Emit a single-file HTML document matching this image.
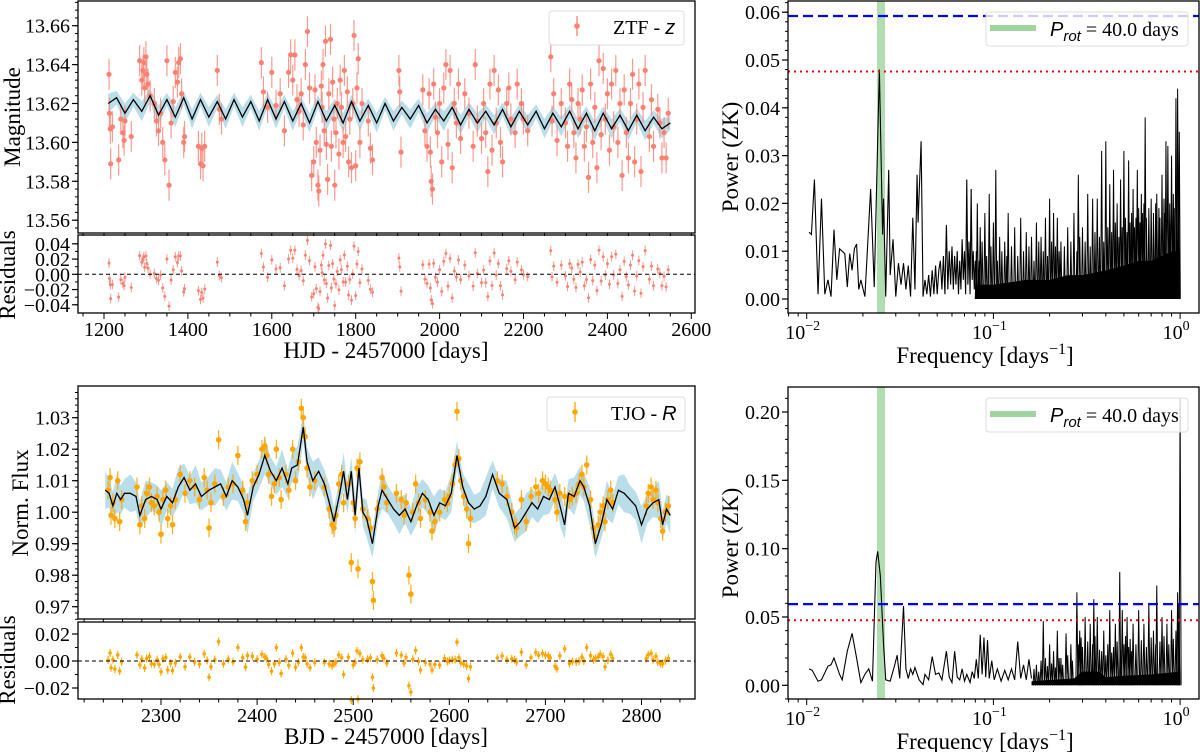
<!DOCTYPE html>
<html><head><meta charset="utf-8">
<style>
html,body{margin:0;padding:0;background:#fff;}
svg{display:block;font-family:"Liberation Serif",serif;}
</style></head>
<body>
<svg id="fig" width="1200" height="752" viewBox="0 0 1200 752" xmlns="http://www.w3.org/2000/svg"></svg>
<script>
// ---------- DATA: ZTF top-left ----------
const ztfModelStart = 1210, ztfModelStep = 20;
const ztfModel = [13.620,13.623,13.615,13.622,13.616,13.624,13.614,13.622,13.613,13.623,13.612,13.622,13.613,13.621,13.612,13.622,13.613,13.621,13.611,13.622,13.612,13.621,13.611,13.620,13.610,13.621,13.611,13.619,13.610,13.621,13.611,13.619,13.610,13.620,13.611,13.618,13.612,13.619,13.610,13.617,13.611,13.618,13.609,13.617,13.610,13.616,13.609,13.617,13.608,13.616,13.609,13.616,13.607,13.615,13.608,13.616,13.607,13.615,13.606,13.615,13.607,13.614,13.606,13.614,13.606,13.613,13.607,13.610];
const ztfT = [1212,1213,1215,1216,1220,1235,1240,1245,1248,1250,1265,1285,1290,1293,1295,1297,1300,1302,1305,1310,1320,1325,1330,1335,1340,1345,1350,1355,1360,1365,1370,1375,1378,1382,1385,1390,1392,1425,1430,1433,1436,1440,1470,1475,1480,1575,1580,1590,1600,1610,1620,1630,1640,1645,1650,1655,1660,1665,1670,1675,1680,1685,1690,1695,1700,1703,1706,1710,1712,1715,1718,1720,1722,1725,1728,1730,1733,1736,1740,1742,1745,1748,1750,1753,1756,1760,1763,1766,1770,1773,1776,1780,1783,1786,1790,1793,1796,1800,1803,1806,1810,1815,1830,1835,1840,1903,1905,1908,1960,1965,1970,1975,1978,1980,1983,1986,1990,1995,2000,2005,2010,2015,2020,2025,2030,2035,2040,2045,2050,2060,2070,2080,2085,2090,2100,2105,2110,2115,2120,2125,2130,2135,2140,2145,2150,2160,2165,2170,2180,2185,2195,2200,2210,2265,2268,2272,2280,2290,2300,2305,2310,2315,2320,2325,2330,2335,2340,2345,2350,2355,2360,2365,2370,2375,2380,2385,2390,2395,2400,2405,2410,2415,2420,2425,2430,2435,2440,2445,2450,2455,2460,2465,2470,2475,2480,2485,2490,2500,2505,2510,2520,2525,2530,2535,2540,2545];
const ztfMag = [13.635,13.615,13.607,13.589,13.608,13.591,13.612,13.605,13.601,13.611,13.603,13.642,13.632,13.637,13.641,13.628,13.644,13.635,13.630,13.624,13.620,13.611,13.606,13.615,13.600,13.591,13.642,13.578,13.610,13.621,13.636,13.631,13.641,13.643,13.625,13.600,13.603,13.598,13.589,13.597,13.588,13.598,13.637,13.617,13.612,13.641,13.626,13.618,13.636,13.619,13.625,13.606,13.636,13.645,13.632,13.645,13.622,13.616,13.625,13.609,13.640,13.657,13.628,13.583,13.590,13.627,13.600,13.578,13.575,13.596,13.629,13.618,13.640,13.606,13.652,13.599,13.581,13.625,13.653,13.598,13.631,13.612,13.578,13.605,13.620,13.594,13.632,13.618,13.600,13.637,13.603,13.626,13.590,13.612,13.587,13.620,13.655,13.588,13.628,13.643,13.600,13.620,13.611,13.597,13.591,13.637,13.626,13.595,13.627,13.606,13.598,13.625,13.595,13.580,13.576,13.630,13.613,13.605,13.620,13.590,13.628,13.640,13.599,13.637,13.587,13.620,13.610,13.630,13.602,13.625,13.615,13.598,13.640,13.611,13.602,13.620,13.605,13.585,13.630,13.596,13.637,13.610,13.627,13.600,13.590,13.620,13.628,13.612,13.605,13.630,13.620,13.612,13.606,13.644,13.611,13.625,13.601,13.620,13.610,13.598,13.630,13.622,13.605,13.592,13.620,13.612,13.627,13.598,13.608,13.582,13.630,13.600,13.618,13.587,13.642,13.604,13.638,13.612,13.625,13.596,13.630,13.608,13.637,13.600,13.620,13.583,13.627,13.605,13.592,13.620,13.635,13.590,13.612,13.630,13.585,13.618,13.637,13.603,13.622,13.598,13.617,13.610,13.592,13.605,13.592,13.615];
const ztfErr = 0.008;
const ztfYTicks = ["13.56","13.58","13.60","13.62","13.64","13.66"];
const ztfRTicks = ["0.04","0.02","0.00","−0.02","−0.04"];
const ztfXTicks = [1200,1400,1600,1800,2000,2200,2400,2600];

// ---------- DATA: TJO bottom-left ----------
const tjoModelT = [2242,2246,2250,2254,2258,2262,2268,2274,2278,2284,2290,2296,2300,2306,2312,2318,2324,2330,2336,2342,2350,2356,2362,2368,2374,2380,2386,2390,2396,2402,2408,2414,2420,2426,2432,2436,2442,2448,2452,2458,2464,2470,2476,2480,2486,2490,2494,2498,2502,2506,2510,2514,2520,2526,2530,2536,2542,2548,2554,2560,2566,2572,2578,2584,2590,2596,2602,2608,2614,2620,2626,2632,2638,2645,2652,2660,2668,2674,2680,2686,2692,2698,2704,2710,2716,2720,2724,2730,2736,2740,2746,2752,2758,2764,2770,2776,2782,2788,2794,2800,2806,2812,2818,2822,2826,2830];
const tjoModel = [1.007,1.006,1.002,1.006,1.004,1.006,1.006,1.005,0.999,1.004,1.005,1.004,1.001,1.005,1.003,1.008,1.011,1.007,1.009,1.005,1.007,1.008,1.009,1.005,1.010,1.008,1.004,0.999,1.008,1.012,1.018,1.013,1.010,1.014,1.009,1.014,1.015,1.027,1.016,1.010,1.013,1.009,1.002,0.997,1.006,1.013,1.004,1.013,0.999,1.014,1.000,0.998,0.990,1.002,1.007,1.004,1.001,0.999,1.001,0.997,1.002,1.006,1.004,0.999,1.003,1.002,1.006,1.018,1.008,1.003,1.001,1.002,1.005,1.012,1.006,1.004,0.995,0.997,1.000,1.003,1.001,1.005,1.004,1.008,1.001,0.996,1.006,1.005,1.010,1.008,1.002,0.990,0.996,1.004,1.001,1.007,1.006,1.004,1.002,0.996,1.001,1.003,1.004,0.996,1.001,0.999];
const tjoT = [2245,2247,2248,2250,2252,2255,2257,2259,2275,2278,2280,2283,2285,2288,2290,2293,2296,2298,2300,2302,2305,2307,2310,2312,2315,2320,2325,2330,2335,2340,2345,2348,2350,2352,2356,2360,2365,2370,2375,2380,2385,2388,2390,2395,2400,2405,2408,2410,2412,2415,2418,2420,2423,2425,2430,2433,2437,2440,2443,2446,2448,2450,2452,2455,2460,2470,2475,2478,2480,2482,2485,2488,2490,2495,2498,2500,2502,2504,2505,2507,2510,2515,2518,2520,2521,2525,2530,2532,2535,2545,2550,2553,2555,2558,2560,2562,2565,2568,2570,2575,2580,2582,2585,2590,2595,2598,2600,2603,2606,2608,2610,2612,2615,2618,2620,2622,2650,2655,2660,2665,2668,2670,2675,2680,2685,2690,2693,2697,2700,2703,2705,2710,2712,2715,2720,2725,2728,2732,2735,2738,2740,2743,2747,2750,2752,2755,2757,2760,2762,2765,2768,2770,2805,2807,2810,2812,2815,2817,2820,2822,2825,2828];
const tjoFlux = [1.007,1.011,0.999,1.003,0.998,1.010,0.997,1.004,1.008,0.996,1.002,0.998,1.006,1.008,1.003,1.002,1.005,1.000,0.993,1.004,1.007,0.998,1.002,0.996,1.004,1.012,1.006,1.010,1.008,1.004,1.011,1.007,0.995,1.003,1.009,1.023,1.005,1.008,1.009,1.018,1.007,0.997,1.003,1.010,1.012,1.020,1.021,1.018,1.012,1.005,1.009,1.020,1.011,1.004,1.012,1.007,1.020,1.010,1.016,1.033,1.030,1.024,1.014,1.008,1.010,1.008,1.001,0.996,0.995,0.999,1.009,1.012,1.003,1.009,0.984,1.003,0.998,1.014,0.982,1.016,1.001,0.998,0.995,0.978,0.972,1.001,1.011,1.008,1.003,1.006,1.004,0.999,1.003,0.980,0.974,1.000,1.009,1.003,0.998,1.004,1.000,0.994,0.997,1.000,1.004,1.003,1.005,1.009,1.015,1.032,1.017,1.010,1.005,1.001,0.990,0.998,1.010,1.009,1.005,1.000,0.996,0.995,1.004,0.997,1.005,1.008,1.006,1.010,1.009,1.008,1.007,1.004,1.000,1.006,1.005,1.004,1.005,1.006,1.009,1.012,1.008,1.015,1.004,0.995,0.992,0.996,1.000,1.002,0.997,1.004,1.007,1.003,1.002,1.006,1.008,1.004,1.007,1.003,0.998,0.994,1.000,1.002];
const tjoErr = 0.003;
const tjoYTicks = ["0.97","0.98","0.99","1.00","1.01","1.02","1.03"];
const tjoRTicks = ["0.02","0.00","−0.02"];
const tjoXTicks = [2300,2400,2500,2600,2700,2800];

// ---------- DATA: periodogram top-right ----------
const pg1LineF = [0.0103,0.0106,0.011,0.0115,0.012,0.0125,0.013,0.0135,0.014,0.0145,0.015,0.016,0.0165,0.017,0.0175,0.018,0.0185,0.019,0.0195,0.0205,0.022,0.023,0.0245,0.0255,0.0258,0.0265,0.0275,0.028,0.029,0.030,0.031,0.032,0.033,0.034,0.035,0.036,0.037,0.038,0.039,0.0395,0.041,0.042,0.043,0.044,0.045,0.046,0.047,0.048,0.049,0.05,0.051,0.052,0.053,0.054,0.055,0.056,0.057,0.058,0.059,0.06,0.061,0.062,0.063,0.064,0.065,0.066,0.067,0.068,0.069,0.07,0.071,0.072,0.073,0.074,0.075,0.076,0.077,0.078,0.079,0.08];
const pg1LineP = [0.0140,0.0135,0.025,0.001,0.021,0.001,0.004,0.0005,0.0145,0.004,0.0105,0.0095,0.0025,0.0095,0.006,0.0105,0.0115,0.002,0.004,0.0005,0.023,0.0025,0.048,0.0135,0.021,0.0005,0.027,0.005,0.0125,0.0005,0.0075,0.003,0.0075,0.002,0.007,0.0005,0.017,0.002,0.026,0.016,0.033,0.0005,0.004,0.001,0.005,0.0005,0.006,0.001,0.007,0.001,0.006,0.008,0.002,0.009,0.001,0.0155,0.002,0.010,0.003,0.011,0.002,0.009,0.003,0.010,0.001,0.008,0.002,0.0125,0.004,0.010,0.001,0.025,0.003,0.012,0.001,0.023,0.004,0.010,0.002,0.008];
const pg1EnvF = [0.08,0.1,0.15,0.2,0.25,0.3,0.4,0.5,0.6,0.7,0.8,0.9,1.0];
const pg1EnvP = [0.003,0.003,0.004,0.004,0.005,0.005,0.006,0.007,0.008,0.008,0.009,0.010,0.010];
const pg1SpikeF = [0.082,0.085,0.09,0.095,0.1,0.103,0.108,0.115,0.12,0.13,0.14,0.15,0.16,0.17,0.18,0.19,0.2,0.21,0.22,0.23,0.25,0.27,0.285,0.3,0.32,0.34,0.36,0.38,0.4,0.42,0.44,0.46,0.48,0.5,0.53,0.56,0.59,0.62,0.65,0.7,0.75,0.8,0.84,0.86,0.9,0.95,0.97,0.99];
const pg1SpikeP = [0.020,0.015,0.018,0.022,0.016,0.027,0.013,0.012,0.018,0.015,0.017,0.014,0.013,0.016,0.013,0.017,0.021,0.018,0.017,0.012,0.015,0.018,0.026,0.015,0.022,0.021,0.021,0.031,0.033,0.024,0.027,0.020,0.025,0.031,0.029,0.023,0.027,0.022,0.038,0.021,0.022,0.026,0.033,0.032,0.030,0.042,0.044,0.035];
const pg1Spike2F = [0.081,0.084,0.087,0.092,0.097,0.105,0.111,0.118,0.125,0.135,0.145,0.155,0.165,0.175,0.185,0.195,0.205,0.215,0.225,0.24,0.26,0.28,0.29,0.31,0.33,0.35,0.37,0.39,0.41,0.43,0.45,0.47,0.49,0.51,0.52,0.54,0.55,0.57,0.58,0.60,0.61,0.63,0.64,0.66,0.68,0.72,0.74,0.77,0.78,0.82,0.83,0.88,0.92,0.93,0.96,0.98];
const pg1Spike2P = [0.010,0.008,0.012,0.009,0.011,0.008,0.010,0.009,0.011,0.009,0.010,0.011,0.008,0.012,0.010,0.009,0.012,0.011,0.010,0.011,0.012,0.010,0.013,0.012,0.011,0.014,0.013,0.012,0.015,0.014,0.016,0.013,0.015,0.017,0.014,0.016,0.018,0.015,0.017,0.019,0.016,0.018,0.020,0.017,0.019,0.018,0.020,0.019,0.017,0.021,0.018,0.020,0.022,0.019,0.021,0.020];
const pg1YTicks = ["0.00","0.01","0.02","0.03","0.04","0.05","0.06"];
const pg1FAP10 = 0.0592, pg1FAP1 = 0.0476;

// ---------- DATA: periodogram bottom-right ----------
const pg2LineF = [0.0103,0.0107,0.0115,0.012,0.013,0.0135,0.014,0.015,0.0155,0.0165,0.0175,0.0185,0.0195,0.0205,0.0215,0.0225,0.0235,0.024,0.0248,0.0258,0.0265,0.028,0.0295,0.0305,0.0315,0.033,0.034,0.035,0.036,0.037,0.038,0.04,0.042,0.043,0.045,0.047,0.049,0.051,0.053,0.056,0.058,0.06,0.062,0.064,0.066,0.068,0.07,0.072,0.075,0.077,0.079,0.081,0.083,0.085,0.087,0.089,0.091,0.093,0.095,0.098,0.101,0.105,0.11,0.115,0.12,0.125,0.13,0.135,0.14,0.145,0.15,0.155,0.16];
const pg2LineP = [0.012,0.011,0.003,0.004,0.014,0.015,0.020,0.008,0.004,0.025,0.038,0.020,0.002,0.008,0.012,0.003,0.090,0.098,0.080,0.030,0.004,0.003,0.014,0.022,0.005,0.058,0.012,0.005,0.012,0.008,0.013,0.004,0.0005,0.008,0.004,0.021,0.008,0.009,0.004,0.025,0.006,0.002,0.025,0.006,0.004,0.012,0.003,0.008,0.002,0.010,0.005,0.019,0.005,0.037,0.008,0.035,0.006,0.033,0.005,0.018,0.004,0.012,0.003,0.011,0.004,0.012,0.004,0.032,0.005,0.015,0.004,0.019,0.005];
const pg2EnvF = [0.16,0.2,0.27,0.3,0.37,0.4,0.5,0.7,1.0];
const pg2EnvP = [0.003,0.004,0.005,0.010,0.010,0.006,0.007,0.008,0.010];
const pg2SpikeF = [0.185,0.19,0.2,0.21,0.22,0.23,0.245,0.26,0.28,0.29,0.31,0.33,0.345,0.36,0.39,0.42,0.45,0.475,0.49,0.52,0.56,0.6,0.64,0.68,0.72,0.75,0.8,0.85,0.9,0.97,0.985,1.0];
const pg2SpikeP = [0.047,0.020,0.030,0.025,0.040,0.020,0.038,0.030,0.068,0.040,0.050,0.045,0.063,0.050,0.040,0.055,0.045,0.083,0.055,0.050,0.045,0.055,0.045,0.060,0.040,0.073,0.050,0.045,0.055,0.068,0.060,0.210];
const pg2Spike2F = [0.165,0.17,0.175,0.18,0.195,0.205,0.215,0.225,0.235,0.25,0.265,0.285,0.295,0.30,0.32,0.34,0.35,0.37,0.38,0.40,0.41,0.43,0.44,0.46,0.48,0.50,0.51,0.53,0.54,0.55,0.58,0.62,0.66,0.70,0.74,0.78,0.82,0.87,0.92,0.95];
const pg2Spike2P = [0.012,0.015,0.010,0.018,0.014,0.016,0.013,0.020,0.015,0.022,0.018,0.030,0.035,0.028,0.032,0.030,0.036,0.026,0.025,0.022,0.030,0.024,0.028,0.032,0.026,0.030,0.036,0.028,0.034,0.025,0.030,0.033,0.028,0.035,0.030,0.032,0.036,0.030,0.034,0.040];
const pg2YTicks = ["0.00","0.05","0.10","0.15","0.20"];
const pg2FAP10 = 0.0594, pg2FAP1 = 0.0476;
const protFreq = 1/40.0;

// ---------- DRAW ----------
const NS = "http://www.w3.org/2000/svg";
const svg = document.getElementById('fig');
function mk(tag, attrs, parent){ const e=document.createElementNS(NS,tag); for(const k in attrs) e.setAttribute(k,attrs[k]); (parent||svg).appendChild(e); return e; }
function txt(s, x, y, size, anchor, parent, rot){ const t=mk('text',{x:x,y:y,'font-size':size,'text-anchor':anchor||'middle',fill:'#000'},parent); if(rot) t.setAttribute('transform','rotate(-90 '+x+' '+y+')'); t.textContent=s; return t; }
function interp(T, V, t){ if(t<=T[0]) return V[0]; for(let i=1;i<T.length;i++){ if(t<=T[i]){ const f=(t-T[i-1])/(T[i]-T[i-1]); return V[i-1]+f*(V[i]-V[i-1]); } } return V[V.length-1]; }
function frame(x0,y0,x1,y1,name){ const r=mk('rect',{x:x0,y:y0,width:x1-x0,height:y1-y0,fill:'none',stroke:'#000','stroke-width':1.3});   }
function yTicks(x0, vals, ymap, minorStep, lo, hi, g){ for(let v=lo; v<=hi+1e-9; v+=minorStep){ const y=ymap(v); mk('line',{x1:x0-3,x2:x0,y1:y,y2:y,stroke:'#000','stroke-width':1},g); } vals.forEach(s=>{ const v=parseFloat(s.replace('−','-')); const y=ymap(v); mk('line',{x1:x0-6,x2:x0,y1:y,y2:y,stroke:'#000','stroke-width':1.2},g); txt(s,x0-8,y+7,20,'end',g); }); }

// --- ZTF panel
const zx = t => 104 + (t-1200)*0.4195;
const zy = m => 103.5 - (m-13.62)*1945;
const zry = r => 274.3 - r*762;
const gZ = mk('g',{});  
const ztfMT = ztfModel.map((_,i)=>ztfModelStart+i*ztfModelStep);
let bandUp=[], bandDn=[];
ztfMT.forEach((t,i)=>{ const wob = (i%2?0.0035:0.005); bandUp.push(zx(t)+','+zy(ztfModel[i]+wob)); bandDn.unshift(zx(t)+','+zy(ztfModel[i]-wob)); });
const zb=mk('polygon',{points:bandUp.concat(bandDn).join(' '),fill:'#add8e6',opacity:0.85},gZ);  
const gZP = mk('g',{},gZ);  
const gZR = mk('g',{},gZ);  
ztfT.forEach((t,i)=>{ const x=zx(t), y=zy(ztfMag[i]);
  mk('line',{x1:x,x2:x,y1:zy(ztfMag[i]+ztfErr),y2:zy(ztfMag[i]-ztfErr),stroke:'#fa8072','stroke-width':1.2,opacity:0.8},gZP);
  mk('circle',{cx:x,cy:y,r:2.6,fill:'#fa8072'},gZP);
  const r=ztfMag[i]-interp(ztfMT,ztfModel,t);
  mk('line',{x1:x,x2:x,y1:zry(r+ztfErr*0.8),y2:zry(r-ztfErr*0.8),stroke:'#fa8072','stroke-width':1,opacity:0.8},gZR);
  mk('circle',{cx:x,cy:zry(r),r:1.5,fill:'#fa8072'},gZR);
});
const zl=mk('polyline',{points:ztfMT.map((t,i)=>zx(t)+','+zy(ztfModel[i])).join(' '),fill:'none',stroke:'#000','stroke-width':1.3},gZ);  
const zd=mk('line',{x1:78,x2:695,y1:zry(0),y2:zry(0),stroke:'#000','stroke-width':1,'stroke-dasharray':'4,3'},gZ);  
frame(78,1,695,233,'ztf-main-axes'); frame(78,235,695,313,'ztf-residual-axes');
const gZA=mk('g',{});  
yTicks(78, ztfYTicks, zy, 0.004, 13.556, 13.672, gZA);
const gZRA=mk('g',{});  
yTicks(78, ztfRTicks, zry, 0.01, -0.04, 0.04, gZRA);
const gZX=mk('g',{});  
for(let t=1150;t<=2600;t+=50){ const x=zx(t); if(x<78||x>695) continue; const maj=ztfXTicks.includes(t); mk('line',{x1:x,x2:x,y1:313,y2:313+(maj?6:3.5),stroke:'#000','stroke-width':1},gZX); mk('line',{x1:x,x2:x,y1:233,y2:236,stroke:'#000','stroke-width':1},gZX); }
ztfXTicks.forEach(t=>txt(String(t),zx(t),336,20,'middle',gZX));
let e;
e=txt('HJD - 2457000 [days]',386,358,23,'middle');  
e=txt('Magnitude',20,117,23,'middle',null,true);  
e=txt('Residuals',15,275,23,'middle',null,true);  
const gZL=mk('g',{});  
mk('rect',{x:549,y:11,width:135,height:34,rx:3,fill:'#fff','fill-opacity':0.8,stroke:'#ddd'},gZL);
mk('line',{x1:577,x2:577,y1:16,y2:36,stroke:'#fa8072','stroke-width':1.3},gZL);
mk('circle',{cx:577,cy:26,r:2.8,fill:'#fa8072'},gZL);
const zlt=txt('ZTF - ',613,34,20,'start',gZL); const zi=mk('tspan',{'font-style':'italic','font-family':'Liberation Sans, sans-serif'},zlt); zi.textContent='z';

// --- TJO panel
const bx = t => 161 + (t-2300)*0.961;
const by = f => 417.7 - (f-1.03)*3150;
const bry = r => 661 - r*1350;
const gB = mk('g',{});  
let bu=[], bd=[];
tjoModelT.forEach((t,i)=>{ const w=(i%3===0?0.006:0.0045); bu.push(bx(t)+','+by(tjoModel[i]+w)); bd.unshift(bx(t)+','+by(tjoModel[i]-w)); });
const bb=mk('polygon',{points:bu.concat(bd).join(' '),fill:'#add8e6',opacity:0.85},gB);  
const gBP=mk('g',{},gB);  
const gBR=mk('g',{},gB);  
tjoT.forEach((t,i)=>{ const x=bx(t), y=by(tjoFlux[i]);
  mk('line',{x1:x,x2:x,y1:by(tjoFlux[i]+tjoErr),y2:by(tjoFlux[i]-tjoErr),stroke:'#ffa500','stroke-width':1.3,opacity:0.85},gBP);
  mk('circle',{cx:x,cy:y,r:2.8,fill:'#ffa500'},gBP);
  const r=tjoFlux[i]-interp(tjoModelT,tjoModel,t);
  mk('line',{x1:x,x2:x,y1:bry(r+tjoErr),y2:bry(r-tjoErr),stroke:'#ffa500','stroke-width':1.1},gBR);
  mk('circle',{cx:x,cy:bry(r),r:1.8,fill:'#ffa500'},gBR);
});
const bl=mk('polyline',{points:tjoModelT.map((t,i)=>bx(t)+','+by(tjoModel[i])).join(' '),fill:'none',stroke:'#000','stroke-width':1.3},gB);  
const bz=mk('line',{x1:78,x2:695,y1:bry(0),y2:bry(0),stroke:'#000','stroke-width':1,'stroke-dasharray':'4,3'},gB);  
frame(78,386,695,619,'tjo-main-axes'); frame(78,622,695,699,'tjo-residual-axes');
const gBA=mk('g',{});  
yTicks(78, tjoYTicks, by, 0.002, 0.966, 1.038, gBA);
const gBRA=mk('g',{});  
yTicks(78, tjoRTicks, bry, 0.01, -0.02, 0.02, gBRA);
const gBX=mk('g',{});  
for(let t=2220;t<=2860;t+=20){ const x=bx(t); if(x<78||x>695) continue; const maj=tjoXTicks.includes(t); mk('line',{x1:x,x2:x,y1:699,y2:699+(maj?6:3.5),stroke:'#000','stroke-width':1},gBX); mk('line',{x1:x,x2:x,y1:619,y2:622,stroke:'#000','stroke-width':1},gBX); }
tjoXTicks.forEach(t=>txt(String(t),bx(t),722,20,'middle',gBX));
e=txt('BJD - 2457000 [days]',386,744,23,'middle');  
e=txt('Norm. Flux',28,503,23,'middle',null,true);  
e=txt('Residuals',15,660,23,'middle',null,true);  
const gBL=mk('g',{});  
mk('rect',{x:547,y:397,width:138,height:34,rx:3,fill:'#fff','fill-opacity':0.8,stroke:'#ddd'},gBL);
mk('line',{x1:575,x2:575,y1:402,y2:422,stroke:'#ffa500','stroke-width':1.3},gBL);
mk('circle',{cx:575,cy:412,r:2.8,fill:'#ffa500'},gBL);
const blt=txt('TJO - ',611,420,20,'start',gBL); const bi=mk('tspan',{'font-style':'italic','font-family':'Liberation Sans, sans-serif'},blt); bi.textContent='R';

// --- periodograms
const lx = f => 806.7 + (Math.log10(f)+2)*186.7;
function spikes(F, P, py, g){ F.forEach((f,i)=>{ const x=lx(f); mk('polyline',{points:(x-1)+','+py(0)+' '+x+','+py(P[i])+' '+(x+1)+','+py(0),fill:'none',stroke:'#000','stroke-width':1},g); }); }
function periodogram(o){
  const g=mk('g',{});  
  const py=o.ymap;
  const gb=mk('rect',{x:lx(o.prot)-4,y:o.top,width:8,height:o.bot-o.top,fill:'#9fd39f',opacity:0.8},g);  
  const env=[lx(o.envF[0])+','+py(0)]; o.envF.forEach((f,i)=>env.push(lx(f)+','+py(o.envP[i]))); env.push(lx(o.envF[o.envF.length-1])+','+py(0));
  const ev=mk('polygon',{points:env.join(' '),fill:'#000'},g);  
  const pl=mk('polyline',{points:o.lineF.map((f,i)=>lx(f)+','+py(o.lineP[i])).join(' '),fill:'none',stroke:'#000','stroke-width':1.1},g);  
  const gs=mk('g',{},g);  
  spikes(o.spF,o.spP,py,gs); spikes(o.sp2F,o.sp2P,py,gs);
  const b=mk('line',{x1:788,x2:1199,y1:py(o.fap10),y2:py(o.fap10),stroke:'#0000ff','stroke-width':2.2,'stroke-dasharray':'10,5'},g);  
  const r=mk('line',{x1:788,x2:1199,y1:py(o.fap1),y2:py(o.fap1),stroke:'#ff0000','stroke-width':2,'stroke-dasharray':'2,4'},g);  
  frame(788,o.top,1199,o.bot,o.name+'-axes');
  const ga=mk('g',{});  
  yTicks(788,o.yt,py,o.minor,o.ylo,o.yhi,ga);
  const gx=mk('g',{});  
  for(let d=-3; d<=0; d++) for(let k=1;k<=9;k++){ const f=k*Math.pow(10,d); const x=lx(f); if(x<788||x>1199) continue; mk('line',{x1:x,x2:x,y1:o.bot,y2:o.bot+(k===1?6:3.5),stroke:'#000','stroke-width':1},gx); }
  [-2,-1,0].forEach(d=>{ const x=lx(Math.pow(10,d)); const t=txt('10',x-4,o.bot+26,20,'middle',gx); const s=mk('tspan',{dy:-9,'font-size':14},t); s.textContent=d===0?'0':'−'+(-d); });
  let t=txt('Frequency [days',985,o.bot+50,23,'middle',gx);  const s=mk('tspan',{dy:-9,'font-size':16},t); s.textContent='−1'; const s2=mk('tspan',{dy:9},t); s2.textContent=']';
  const yl=txt('Power (ZK)',738,o.ylab,23,'middle',null,true);  
  const gl=mk('g',{});  
  mk('rect',{x:986,y:o.top+11,width:202,height:34,rx:3,fill:'#fff','fill-opacity':0.8,stroke:'#ddd'},gl);
  mk('line',{x1:990,x2:1036,y1:o.top+27,y2:o.top+27,stroke:'#9fd39f','stroke-width':6},gl);
  const lt=mk('text',{x:1050,y:o.top+35,'font-size':20,fill:'#000'},gl);
  const a=mk('tspan',{'font-style':'italic','font-family':'Liberation Sans, sans-serif'},lt); a.textContent='P';
  const b2=mk('tspan',{'font-style':'italic','font-family':'Liberation Sans, sans-serif','font-size':15,dy:5},lt); b2.textContent='rot';
  const c=mk('tspan',{dy:-5},lt); c.textContent=' = 40.0 days';
}
periodogram({name:'ztf-periodogram',top:1,bot:313,ymap:p=>299-p*4780,lineF:pg1LineF,lineP:pg1LineP,envF:pg1EnvF,envP:pg1EnvP,spF:pg1SpikeF,spP:pg1SpikeP,sp2F:pg1Spike2F,sp2P:pg1Spike2P,fap10:pg1FAP10,fap1:pg1FAP1,yt:pg1YTicks,minor:0.002,ylo:-0.002,yhi:0.062,ylab:157,prot:protFreq});
periodogram({name:'tjo-periodogram',top:387,bot:699,ymap:p=>685.3-p*1366.5,lineF:pg2LineF,lineP:pg2LineP,envF:pg2EnvF,envP:pg2EnvP,spF:pg2SpikeF,spP:pg2SpikeP,sp2F:pg2Spike2F,sp2P:pg2Spike2P,fap10:pg2FAP10,fap1:pg2FAP1,yt:pg2YTicks,minor:0.01,ylo:-0.01,yhi:0.21,ylab:543,prot:protFreq});
</script>
</body></html>
